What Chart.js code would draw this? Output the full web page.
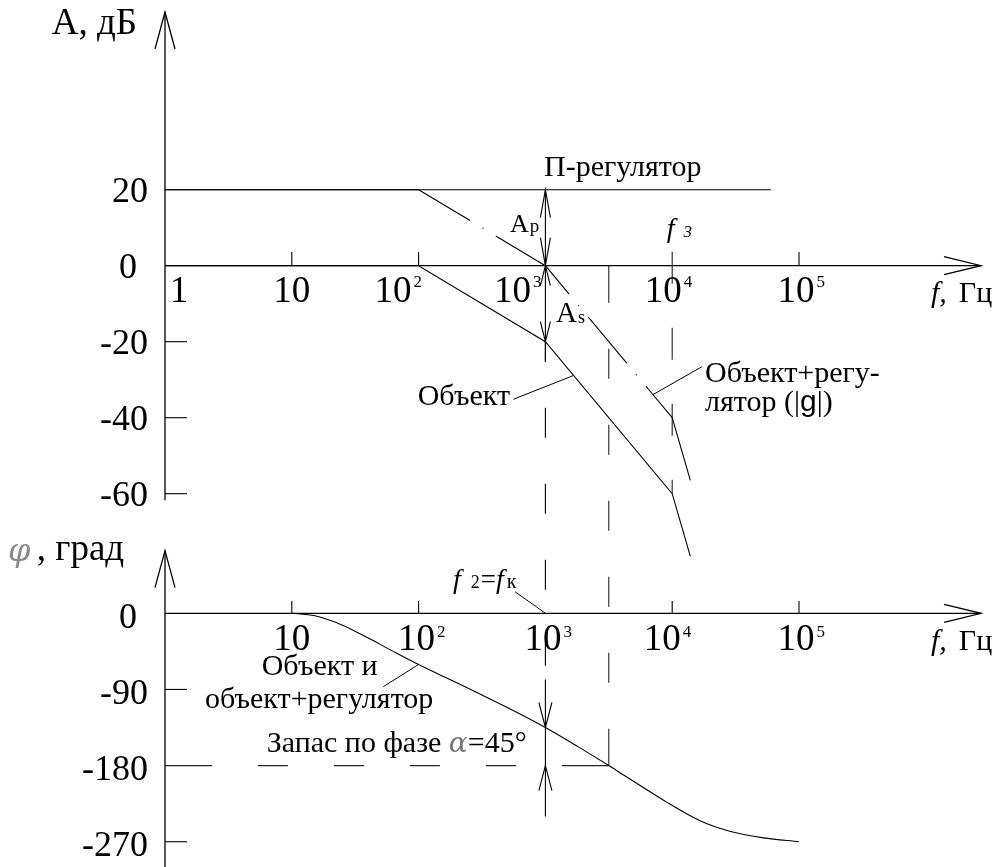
<!DOCTYPE html>
<html>
<head>
<meta charset="utf-8">
<script src="https://cdn.jsdelivr.net/npm/chart.js@4/dist/chart.umd.min.js"></script>
<style>
  html, body { margin: 0; padding: 0; background: #fff; }
  #wrap { position: relative; width: 997px; height: 867px; }
</style>
</head>
<body>
<div id="wrap"><canvas id="bode" width="997" height="867"></canvas></div>
<script>
// ---- Bode diagram data: P-controller, plant and open loop ----
const ctrlFreq  = [1, 6e4];
const ctrlGain  = [20, 20];

const plantFreq = [1, 1e2, 1e3, 1e4, 1.39e4];
const plantGain = [0, 0, -20, -60, -76.5];

const loopFreq  = [1, 1e2, 1e3, 1e4, 1.39e4];
const loopGain  = [20, 20, 0, -40, -56.5];

const phaseFreq = [10, 15.8, 25.1, 39.8, 63.1, 100, 178, 316, 631, 1000, 1778, 3162,
                   4169, 6310, 9120, 13180, 18620, 28840, 52480, 1e5];
const phaseDeg  = [0, -3.5, -14, -29, -45, -60.5, -78.5, -96.5, -119, -135, -157, -180,
                   -191.5, -208.5, -223.5, -237.5, -248.5, -258, -265.5, -270];

const decadeTicks  = [1, 10, 100, 1000, 10000, 100000];
const decadeExp    = ['', '', '2', '3', '4', '5'];
const gainTicks    = [20, 0, -20, -40, -60];
const phaseTicks   = [0, -90, -180, -270];

const crossFreq  = 1e3;     // f2 = fк
const f3Freq     = 1e4;     // f3
const piFreq     = 3162;    // phase reaches -180°
const marginDeg  = 45;

// ---- layout ----
const W = 997, H = 867;
const X0 = 165, DECADE = 126.8;           // pixel of f = 1 and width of one decade
const AMP_ZERO = 265.7, PX_PER_DB = 3.8;  // 0 dB row
const PH_ZERO = 613.3, PX_PER_DEG = 0.846;// 0° row
const AXIS_TIP = 981;

const SERIF = '"Liberation Serif", "Times New Roman", serif';
const SYMBOL = '"DejaVu Serif", serif';
const INK = '#000';

const pts = (xs, ys) => xs.map((x, i) => ({ x, y: ys[i] }));

// dash-dot pattern of the loop line restarts at each vertex
const loopDash   = [[], [60, 14.5, 1, 14.5], [60, 14.5, 1, 14.5], []];
const loopOffset = [0, 0, 23, 0];

function interpLog(xs, ys, f) {
  const lf = Math.log10(f);
  for (let i = 0; i < xs.length - 1; i++) {
    const a = Math.log10(xs[i]), b = Math.log10(xs[i + 1]);
    if (lf >= a && lf <= b) return ys[i] + (ys[i + 1] - ys[i]) * (lf - a) / (b - a);
  }
  return ys[ys.length - 1];
}

function line(ctx, x1, y1, x2, y2) {
  ctx.beginPath(); ctx.moveTo(x1, y1); ctx.lineTo(x2, y2); ctx.stroke();
}

function arrowHead(ctx, x, y, dir, len, half) {
  ctx.beginPath();
  if (dir === 'up')    { ctx.moveTo(x - half, y + len); ctx.lineTo(x, y); ctx.lineTo(x + half, y + len); }
  if (dir === 'down')  { ctx.moveTo(x - half, y - len); ctx.lineTo(x, y); ctx.lineTo(x + half, y - len); }
  if (dir === 'right') { ctx.moveTo(x - len, y - half); ctx.lineTo(x, y); ctx.lineTo(x - len, y + half); }
  ctx.stroke();
}

// dashed line whose two end dashes absorb the remainder
function centeredDash(ctx, x1, y1, x2, y2, d, g) {
  const L = Math.hypot(x2 - x1, y2 - y1);
  const k = Math.max(0, Math.floor((L - g - 2 * d) / (d + g)));
  const e = (L - (k + 1) * g - k * d) / 2;
  const ux = (x2 - x1) / L, uy = (y2 - y1) / L;
  ctx.beginPath();
  const seg = (s0, s1) => { ctx.moveTo(x1 + ux * s0, y1 + uy * s0); ctx.lineTo(x1 + ux * s1, y1 + uy * s1); };
  seg(0, e);
  let s = e + g;
  for (let i = 0; i < k; i++) { seg(s, s + d); s += d + g; }
  seg(L - e, L);
  ctx.stroke();
}

function text(ctx, str, x, y, font, align, color) {
  ctx.font = font;
  ctx.textAlign = align || 'left';
  ctx.textBaseline = 'alphabetic';
  ctx.fillStyle = color || INK;
  ctx.fillText(str, x, y);
  return x + ctx.measureText(str).width;
}

// consecutive runs of differently styled text
function runs(ctx, x, y, parts) {
  let cx = x;
  for (const p of parts) {
    cx += p.dx || 0;
    cx = text(ctx, p.t, cx, y + (p.dy || 0), p.font, 'left', p.color);
  }
  return cx;
}

const f = (size, style) => `${style ? style + ' ' : ''}${size}px ${SERIF}`;

const bodeDecor = {
  id: 'bodeDecor',
  beforeDatasetsDraw(chart) {
    const ctx = chart.ctx;
    const sx = chart.scales.x, sa = chart.scales.yA, sp = chart.scales.yP;
    const fx = v => sx.getPixelForValue(v);
    const ay = v => sa.getPixelForValue(v);
    const py = v => sp.getPixelForValue(v);
    ctx.save();
    ctx.strokeStyle = INK;
    ctx.lineCap = 'butt';

    // ---- axes ----
    ctx.lineWidth = 1.3;
    const ax = fx(1);
    line(ctx, ax, 12, ax, ay(-60) + 6.6);
    arrowHead(ctx, ax, 12, 'up', 37, 10);
    line(ctx, ax, ay(0), AXIS_TIP, ay(0));
    arrowHead(ctx, AXIS_TIP, ay(0), 'right', 37, 9);

    line(ctx, ax, 550.7, ax, H);
    arrowHead(ctx, ax, 550.7, 'up', 37, 10);
    line(ctx, ax, py(0), AXIS_TIP, py(0));
    arrowHead(ctx, AXIS_TIP, py(0), 'right', 37, 9);

    // axis ticks
    ctx.lineWidth = 1.1;
    [10, 100, 1e5].forEach(v => line(ctx, fx(v), ay(0) - 13.6, fx(v), ay(0)));
    [10, 100, 1e4, 1e5].forEach(v => line(ctx, fx(v), py(0) - 12.3, fx(v), py(0)));
    [-20, -40, -60].forEach(v => line(ctx, ax, ay(v), ax + 22, ay(v)));
    [-90, -270].forEach(v => line(ctx, ax, py(v), ax + 22, py(v)));

    // ---- guide lines ----
    ctx.strokeStyle = '#222';
    // f3 marker
    ctx.setLineDash([32, 44]);
    line(ctx, fx(f3Freq), ay(0) - 14, fx(f3Freq), ay(interpLog(plantFreq, plantGain, f3Freq)));
    ctx.setLineDash([]);
    // -180° reference and its frequency
    const phiCross = interpLog(phaseFreq, phaseDeg, crossFreq);
    centeredDash(ctx, fx(piFreq), ay(0), fx(piFreq), py(-180), 30, 46);
    centeredDash(ctx, ax, py(-180), fx(piFreq), py(-180), 30, 46);

    // crossover frequency line with dimension arrows
    const xc = fx(crossFreq);
    ctx.strokeStyle = INK;
    line(ctx, xc, ay(20), xc, ay(-20) + 20);
    ctx.setLineDash([30, 46]);
    ctx.lineDashOffset = 10;
    line(ctx, xc, ay(-20), xc, py(phiCross) - 58);
    ctx.setLineDash([]);
    ctx.lineDashOffset = 0;
    line(ctx, xc, py(phiCross) - 48, xc, py(phiCross - marginDeg) + 51);

    arrowHead(ctx, xc, ay(20), 'up', 28, 5);
    arrowHead(ctx, xc, ay(0), 'down', 28, 5);
    arrowHead(ctx, xc, ay(0), 'up', 20, 5);
    arrowHead(ctx, xc, ay(-20), 'down', 20, 5);
    arrowHead(ctx, xc, py(phiCross), 'down', 25, 6.5);
    arrowHead(ctx, xc, py(phiCross - marginDeg), 'up', 25, 6.5);

    // ---- leader lines ----
    ctx.lineWidth = 1;
    const fPlant = 1668, fLoop = 7050;
    line(ctx, 513.3, 399.3, fx(fPlant), ay(interpLog(plantFreq, plantGain, fPlant)));
    line(ctx, 702, 366.7, fx(fLoop), ay(interpLog(loopFreq, loopGain, fLoop)));
    line(ctx, 383.3, 686.7, fx(100), py(interpLog(phaseFreq, phaseDeg, 100)));
    line(ctx, 515, 591.7, xc, py(0));

    // ---- tick labels ----
    gainTicks.forEach(v => {
      text(ctx, String(v), v === 0 ? 137 : 148, ay(v) + 12.5, f(36), 'right');
    });
    phaseTicks.forEach(v => {
      text(ctx, String(v), v === 0 ? 137 : 148, py(v) + 14.5, f(36), 'right');
    });

    const ampShift = [14, 0, -25.5, -33, -9, -3];
    const phShift  = [null, 0, -2, -2.5, -10, -3];
    decadeTicks.forEach((v, i) => {
      const base = v === 1 ? '1' : '10';
      const cxA = fx(v) + ampShift[i];
      text(ctx, base, cxA, 301.7, f(37), 'center');
      ctx.font = f(37);
      const wA = ctx.measureText(base).width;
      if (decadeExp[i]) text(ctx, decadeExp[i], cxA + wA / 2 + 2, 286.7, f(17), 'left');
      if (phShift[i] !== null) {
        const cxP = fx(v) + phShift[i];
        text(ctx, base, cxP, 650, f(37), 'center');
        if (decadeExp[i]) text(ctx, decadeExp[i], cxP + wA / 2 + 2, 636.7, f(17), 'left');
      }
    });

    // axis titles
    text(ctx, 'А, дБ', 51.7, 34.3, f(37));
    text(ctx, 'φ', 8, 561, `italic 32px ${SYMBOL}`, 'left', '#8a8a8a');
    text(ctx, ', град', 36.7, 560, f(37));
    runs(ctx, 931, 302, [{ t: 'f,', font: f(30, 'italic') }, { t: 'Гц', font: f(30), dx: 12 }]);
    runs(ctx, 931, 650, [{ t: 'f,', font: f(30, 'italic') }, { t: 'Гц', font: f(30), dx: 12 }]);

    // curve and dimension labels
    text(ctx, 'П-регулятор', 544, 176, f(30));
    runs(ctx, 510, 231.7, [{ t: 'A', font: f(26) }, { t: 'р', font: f(19), dx: 1 }]);
    runs(ctx, 556, 321.7, [{ t: 'A', font: f(29) }, { t: 's', font: f(18), dx: 1, dy: 1.5 }]);
    runs(ctx, 666.7, 236.5, [{ t: 'f', font: f(28, 'italic') }, { t: '3', font: f(17, 'italic'), dx: 9 }]);
    text(ctx, 'Объект+регу-', 705, 382, f(30));
    runs(ctx, 705, 411, [
      { t: 'лятор (|', font: f(30) },
      { t: 'g', font: `30px "Liberation Sans", Arial, sans-serif` },
      { t: '|)', font: f(30) }
    ]);
    text(ctx, 'Объект', 510, 405, f(30), 'right');
    text(ctx, 'Объект и', 261.7, 675, f(30));
    text(ctx, 'объект+регулятор', 205, 708, f(30));
    runs(ctx, 266.7, 752, [
      { t: 'Запас по фазе ', font: f(30) },
      { t: 'α', font: `italic 28px ${SYMBOL}`, color: '#777' },
      { t: '=' + marginDeg + '°', font: f(30) }
    ]);
    runs(ctx, 453, 588, [
      { t: 'f', font: f(28, 'italic') },
      { t: '2', font: f(18), dx: 10 },
      { t: '=', font: f(27), dx: 1 },
      { t: 'f', font: f(28, 'italic') },
      { t: 'к', font: f(20), dx: 3 }
    ]);

    ctx.restore();
  }
};

const common = { pointRadius: 0, borderColor: INK, borderWidth: 1.1, fill: false, clip: false, tension: 0 };

new Chart(document.getElementById('bode'), {
  type: 'line',
  data: {
    datasets: [
      { ...common, label: 'П-регулятор', data: pts(ctrlFreq, ctrlGain), yAxisID: 'yA' },
      { ...common, label: 'Объект', data: pts(plantFreq, plantGain), yAxisID: 'yA' },
      {
        ...common, label: 'Объект+регулятор', data: pts(loopFreq, loopGain), yAxisID: 'yA',
        segment: {
          borderDash: c => loopDash[c.p0DataIndex],
          borderDashOffset: c => loopOffset[c.p0DataIndex]
        }
      },
      {
        ...common, label: 'Фаза', data: pts(phaseFreq, phaseDeg), yAxisID: 'yP',
        cubicInterpolationMode: 'monotone'
      }
    ]
  },
  options: {
    responsive: false,
    animation: false,
    events: [],
    devicePixelRatio: 1,
    layout: { padding: { left: X0, right: W - (X0 + 5 * DECADE), top: 0, bottom: 0 } },
    plugins: { legend: { display: false }, tooltip: { enabled: false } },
    scales: {
      x: { type: 'logarithmic', min: 1, max: 1e5, display: false },
      yA: { type: 'linear', display: false, min: -(H - AMP_ZERO) / PX_PER_DB, max: AMP_ZERO / PX_PER_DB },
      yP: { type: 'linear', display: false, min: -(H - PH_ZERO) / PX_PER_DEG, max: PH_ZERO / PX_PER_DEG }
    }
  },
  plugins: [bodeDecor]
});
</script>
</body>
</html>
